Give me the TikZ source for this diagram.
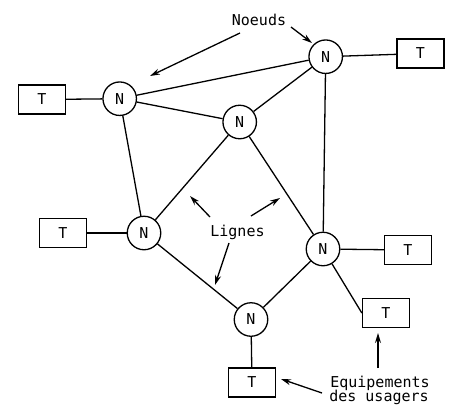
\documentclass[tikz,border=0pt]{standalone}
\usepackage{fontspec}
\setmonofont{DejaVu Sans Mono}
\usetikzlibrary{arrows.meta}
\begin{document}
\begin{tikzpicture}[x=1pt,y=-1pt,
  every node/.style={font=\ttfamily\fontsize{15}{18}\selectfont},
  nd/.style={draw,circle,line width=1.3pt,inner sep=0pt,minimum size=33.5pt},
  term/.style={draw,rectangle,line width=1.3pt,inner sep=0pt,minimum width=47pt,minimum height=29pt},
  ln/.style={line width=1.3pt},
  arr/.style={line width=1.3pt,-{Stealth[length=10pt,width=6pt]}},
  lbl/.style={anchor=base,inner sep=0pt}]
\useasboundingbox (0,0) rectangle (453,405);
% nodes
\node[nd] (n1) at (325.7,56.7) {N};
\node[nd] (n2) at (119.7,98.7) {N};
\node[nd] (n3) at (239.7,122) {N};
\node[nd] (n4) at (144,233) {N};
\node[nd] (n5) at (323,249) {N};
\node[nd] (n6) at (251,319.5) {N};
% terminals
\node[term] (t1) at (420.5,53.5) {T};
\node[term] (t2) at (42,99.5) {T};
\node[term] (t3) at (63,233) {T};
\node[term] (t4) at (408,250) {T};
\node[term] (t5) at (386,313) {T};
\node[term] (t6) at (252,382.5) {T};
% lines
\draw[ln] (n1) -- (t1);
\draw[ln] (n1) -- (n2);
\draw[ln] (n1) -- (n3);
\draw[ln] (n1) -- (n5);
\draw[ln] (n2) -- (t2);
\draw[ln] (n2) -- (n3);
\draw[ln] (n2) -- (n4);
\draw[ln] (n3) -- (n4);
\draw[ln] (n3) -- (n5);
\draw[ln] (n4) -- (t3);
\draw[ln] (n4) -- (n6);
\draw[ln] (n5) -- (t4);
\draw[ln] (n5) -- (n6);
\draw[ln] (n5) -- (t5.west);
\draw[ln] (n6) -- (t6);
% labels
\node[lbl] (noeuds) at (259,25) {Noeuds};
\node[lbl] (lignes) at (237.5,236) {Lignes};
\node[lbl] (equip) at (380,387) {Equipements};
\node[lbl] (usagers) at (379,401) {des usagers};
% arrow coordinates
\coordinate (a1s) at (240,33);   \coordinate (a1e) at (150,76);
\coordinate (a2s) at (291,27);   \coordinate (a2e) at (312,43);
\coordinate (b1s) at (210,217);  \coordinate (b1e) at (190,196);
\coordinate (b2s) at (251,216);  \coordinate (b2e) at (280,198);
\coordinate (b3s) at (229,243);  \coordinate (b3e) at (215,285);
\coordinate (c1s) at (322,393);  \coordinate (c1e) at (281,379);
\coordinate (c2s) at (378,368);  \coordinate (c2e) at (378,333);
\draw[arr] (a1s) -- (a1e);
\draw[arr] (a2s) -- (a2e);
\draw[arr] (b1s) -- (b1e);
\draw[arr] (b2s) -- (b2e);
\draw[arr] (b3s) -- (b3e);
\draw[arr] (c1s) -- (c1e);
\draw[arr] (c2s) -- (c2e);
\end{tikzpicture}
\end{document}
